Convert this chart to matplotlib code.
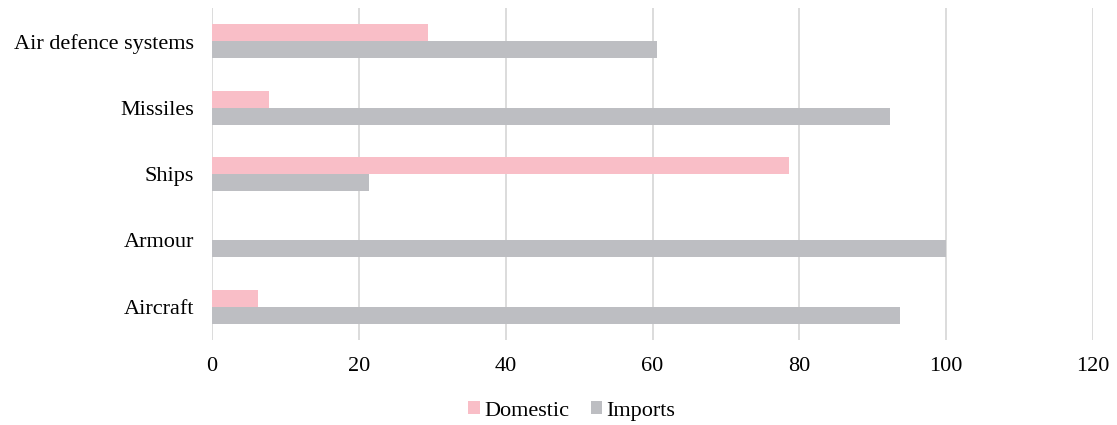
import numpy as np
import matplotlib.pyplot as plt

categories = ["Aircraft", "Armour", "Ships", "Missiles", "Air defence systems"]
domestic = [6.3, 0.0, 78.6, 7.7, 29.4]
imports = [93.7, 100.0, 21.4, 92.3, 60.6]
x_ticks = [0, 20, 40, 60, 80, 100, 120]

PINK = "#F9BEC7"
GREY = "#BDBEC2"

plt.rcParams["font.family"] = ["Liberation Serif", "DejaVu Serif"]

fig = plt.figure(figsize=(11.17, 4.25), dpi=100)
ax = fig.add_axes([212 / 1117, 1 - 340 / 425, (1093 - 212) / 1117, 332 / 425])

y = np.arange(len(categories))
h = 0.255
ax.barh(y + h / 2, domestic, height=h, color=PINK, label="Domestic", zorder=3)
ax.barh(y - h / 2, imports, height=h, color=GREY, label="Imports", zorder=3)

ax.set_xlim(0, 120)
ax.set_ylim(-0.5, 4.5)
ax.set_xticks(x_ticks)
ax.set_yticks(y)
ax.set_yticklabels(categories)
ax.xaxis.grid(True, color="#D9D9D9", linewidth=1.3, zorder=0)
ax.tick_params(axis="both", length=0, labelsize=16)
ax.tick_params(axis="x", pad=12)
ax.tick_params(axis="y", pad=13)
for s in ax.spines.values():
    s.set_visible(False)

fig.legend(loc="center", bbox_to_anchor=(572 / 1117, 1 - 411 / 425), ncol=2,
           frameon=False, fontsize=16, handlelength=0.5, handleheight=0.5,
           handletextpad=0.2, columnspacing=1.0)

fig.savefig("out.png", dpi=100)
